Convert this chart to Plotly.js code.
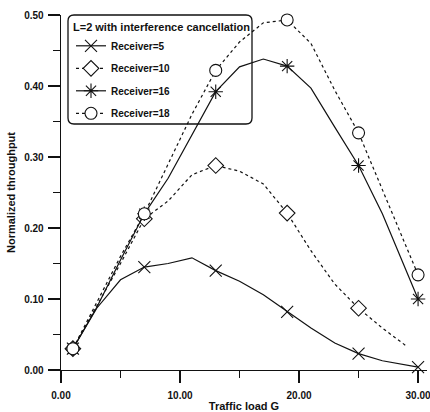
<!DOCTYPE html>
<html>
<head>
<meta charset="utf-8">
<script src="https://cdn.plot.ly/plotly-3.0.1.min.js"></script>
<style>html,body{margin:0;padding:0;background:#fff;}#chart{width:430px;height:412px;}</style>
</head>
<body>
<div id="chart"></div>
<script>
// ---- data ----
const loadG = [1, 3, 5, 7, 9, 11, 13, 15, 17, 19, 21, 23, 25, 27, 30];
const loadG10 = [1, 3, 5, 7, 9, 11, 13, 15, 17, 19, 21, 23, 25, 27, 29];
const rx5  = [0.030, 0.087, 0.127, 0.145, 0.150, 0.158, 0.140, 0.125, 0.106, 0.082, 0.059, 0.038, 0.023, 0.013, 0.004];
const rx10 = [0.030, 0.090, 0.150, 0.213, 0.238, 0.275, 0.288, 0.280, 0.262, 0.221, 0.168, 0.121, 0.087, 0.059, 0.034];
const rx16 = [0.030, 0.088, 0.155, 0.220, 0.270, 0.330, 0.392, 0.427, 0.438, 0.428, 0.397, 0.342, 0.288, 0.220, 0.100];
const rx18 = [0.030, 0.095, 0.160, 0.220, 0.290, 0.360, 0.422, 0.462, 0.489, 0.493, 0.460, 0.394, 0.334, 0.254, 0.134];
const markedG = [1, 7, 13, 19, 25, 30];
const seriesNames = ['Receiver=5', 'Receiver=10', 'Receiver=16', 'Receiver=18'];
const legendTitle = 'L=2 with interference cancellation';
const xTitle = 'Traffic load G';
const yTitle = 'Normalized throughput';

// ---- styling ----
const FONT = 'Liberation Sans, Arial, sans-serif';
const INK = '#111';
const CLEAR = 'rgba(0,0,0,0)';

function makeTrace(xs, ys, name, symbol, dash, filled) {
  const line = xs.map(x => markedG.indexOf(x) >= 0 ? INK : CLEAR);
  const fill = xs.map(x => markedG.indexOf(x) >= 0 ? (filled ? '#fff' : INK) : CLEAR);
  return {
    x: xs, y: ys, name: name, legendgroup: name, type: 'scatter', mode: 'lines+markers',
    cliponaxis: false,
    line: {color: INK, width: 1.2, dash: dash},
    marker: {symbol: symbol, size: 12, color: fill, line: {color: line, width: 1.1}}
  };
}

const traces = [
  makeTrace(loadG, rx5, seriesNames[0], 'x-thin-open', 'solid', false),
  makeTrace(loadG10, rx10, seriesNames[1], 'diamond', '3px,3px', true),
  makeTrace(loadG, rx16, seriesNames[2], 'asterisk-open', 'solid', false),
  makeTrace(loadG, rx18, seriesNames[3], 'circle', '3px,3px', true)
];

// legend frame (rounded) in paper coordinates
const L = 61, R = 427, T = 15, B = 370;
const px = v => (v - L) / (R - L);
const py = v => (B - v) / (B - T);
const bx0 = px(68), bx1 = px(252), by1 = py(15), by0 = py(124);
const rx = 6 / (R - L), ry = 6 / (B - T);
const framePath = `M${bx0+rx},${by1} L${bx1-rx},${by1} Q${bx1},${by1} ${bx1},${by1-ry} L${bx1},${by0+ry} Q${bx1},${by0} ${bx1-rx},${by0} L${bx0+rx},${by0} Q${bx0},${by0} ${bx0},${by0+ry} L${bx0},${by1-ry} Q${bx0},${by1} ${bx0+rx},${by1} Z`;

const tickFont = {family: FONT, size: 10, color: INK, weight: 'bold'};
const titleFont = {family: FONT, size: 11, color: INK, weight: 'bold'};

const axisCommon = {
  showgrid: false, zeroline: false, showline: true, linecolor: INK, linewidth: 1.3,
  ticks: 'outside', ticklen: 12, tickwidth: 1.3, tickcolor: INK,
  tickfont: tickFont, tickformat: '.2f', ticklabeloverflow: 'allow'
};

const layout = {
  width: 430, height: 412,
  margin: {l: L, r: 430 - R, t: T, b: 412 - B},
  paper_bgcolor: '#fff', plot_bgcolor: '#fff',
  showlegend: true,
  xaxis: Object.assign({}, axisCommon, {
    range: [0, 30.75], tick0: 0, dtick: 10, ticklabelstandoff: 4,
    minor: {dtick: 5, ticks: 'outside', ticklen: 7, tickwidth: 1.3, tickcolor: INK, showgrid: false},
    title: {text: xTitle, font: titleFont, standoff: 2}
  }),
  yaxis: Object.assign({}, axisCommon, {
    range: [0, 0.5], tick0: 0, dtick: 0.1, ticklabelstandoff: 2,
    minor: {dtick: 0.05, ticks: 'outside', ticklen: 7, tickwidth: 1.3, tickcolor: INK, showgrid: false},
    title: {text: yTitle, font: titleFont, standoff: 6}
  }),
  legend: {
    x: px(71), y: py(17), xanchor: 'left', yanchor: 'top',
    bgcolor: CLEAR, borderwidth: 0,
    font: {family: FONT, size: 10, color: INK, weight: 'bold'},
    title: {text: legendTitle, font: titleFont, side: 'top'},
    tracegroupgap: 3.5
  },
  shapes: [{type: 'path', xref: 'paper', yref: 'paper', path: framePath,
            line: {color: INK, width: 1.3}, fillcolor: CLEAR, layer: 'above'}]
};

Plotly.newPlot('chart', traces, layout, {displayModeBar: false, staticPlot: true});
</script>
</body>
</html>
